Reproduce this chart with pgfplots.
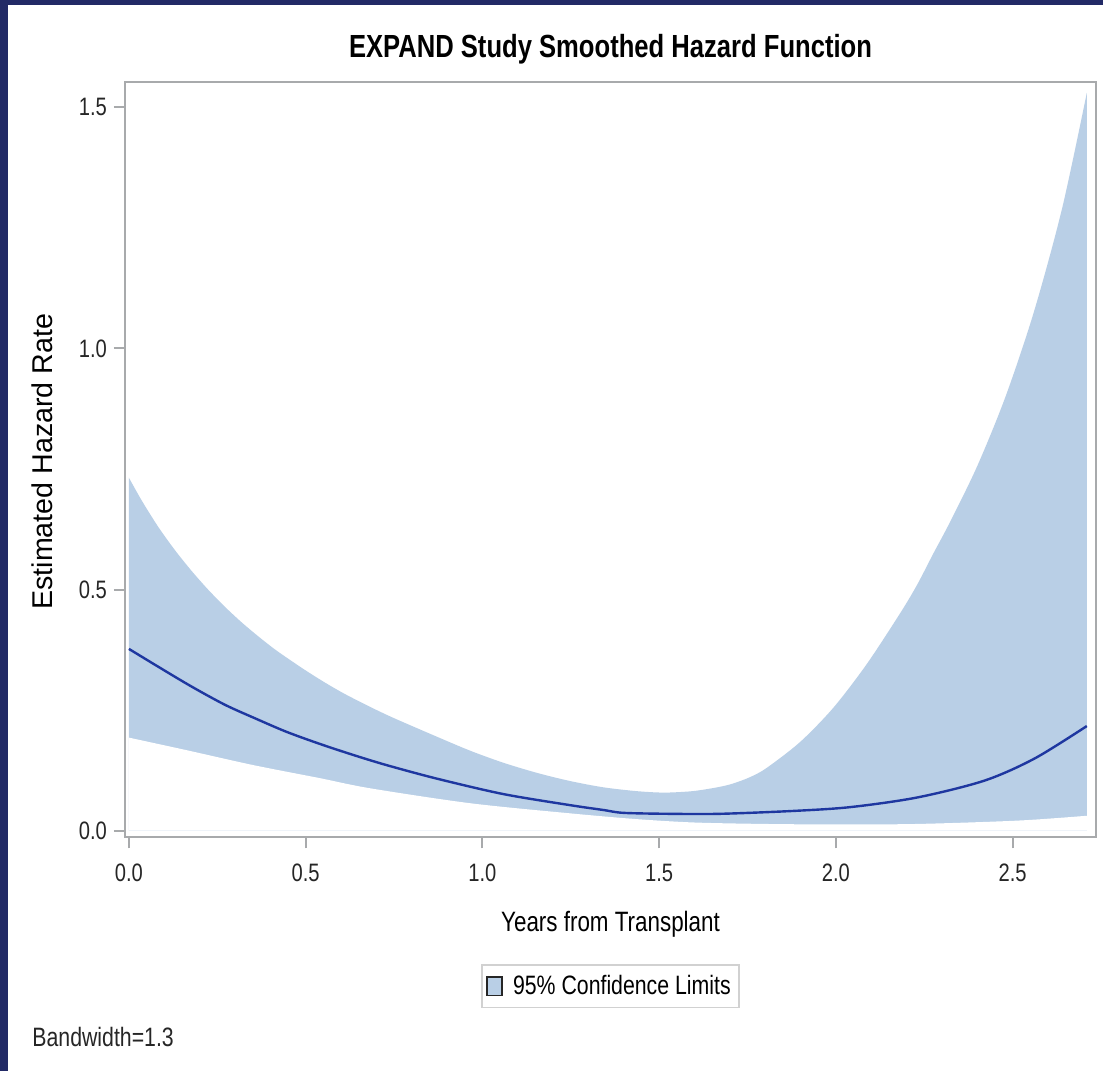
\documentclass[border=0pt]{standalone}
\usepackage{pgfplots}
\pgfplotsset{compat=1.18}
\usepackage{fontspec}
\setmainfont{Liberation Sans}[FakeStretch=0.8]
\newfontfamily\ylabfont{Liberation Sans}
\definecolor{navyframe}{RGB}{34,42,102}
\definecolor{bandblue}{RGB}{185,207,230}
\definecolor{meanblue}{RGB}{30,55,160}
\definecolor{axisgray}{RGB}{168,170,172}
\begin{document}
\begin{tikzpicture}
\path[use as bounding box] (0,0) rectangle (551.5pt,-535.5pt);
\fill[navyframe] (0,0) rectangle (551.5pt,-535.5pt);
\fill[white] (4pt,-2.5pt) rectangle (551.5pt,-535.5pt);
\begin{axis}[
  at={(62.5pt,-418.65pt)}, anchor=south west,
  scale only axis, width=485.5pt, height=377.8pt,
  xmin=-0.011, xmax=2.736, ymin=-0.0137, ymax=1.553,
  axis on top,
  axis line style={axisgray, line width=1pt},
  xtick={0,0.5,1,1.5,2,2.5}, ytick={0,0.5,1,1.5},
  xtick pos=lower, ytick pos=left,
  tick align=outside, major tick length=5.5pt,
  tick style={axisgray, line width=1pt},
  /pgf/number format/assume math mode=true,
  /pgf/number format/fixed, /pgf/number format/fixed zerofill, /pgf/number format/precision=1,
  ticklabel style={font=\fontsize{12.6}{14}\selectfont, text=black!85},
  xticklabel style={yshift=-4.5pt},
  title={\textbf{EXPAND Study Smoothed Hazard Function}},
  title style={font=\fontsize{16}{19}\selectfont, at={(axis description cs:0.5,1.0155)}, anchor=base, inner sep=0pt},
  xlabel={Years from Transplant},
  xlabel style={font=\fontsize{14}{16}\selectfont, at={(axis description cs:0.5,-0.124)}, anchor=base, inner sep=0pt},
  ylabel={\ylabfont Estimated Hazard Rate},
  ylabel style={font=\fontsize{14.3}{16}\selectfont, at={(axis description cs:-0.0855,0.497)}, anchor=center, inner sep=0pt},
  legend style={at={(axis description cs:0.5,-0.197)}, anchor=center, draw=black!18, line width=0.8pt,
    font=\fontsize{13.3}{15}\selectfont, inner xsep=2pt, inner ysep=3pt},
  legend cell align=left,
]
% upper confidence limit (filled down to zero)
\addplot[fill=bandblue, draw=none, smooth,
  legend image code/.code={\draw[fill=bandblue, draw=black!85, line width=0.8pt] (0pt,-4.6pt) rectangle (7.6pt,4.6pt); \path (11pt,0pt);}]
  coordinates {
(0.000,0.732) (0.036,0.685) (0.083,0.630) (0.130,0.582) (0.177,0.539) (0.224,0.500)
(0.272,0.464) (0.319,0.432) (0.366,0.403) (0.413,0.376) (0.460,0.352) (0.507,0.329)
(0.555,0.307) (0.602,0.287) (0.649,0.269) (0.690,0.254) (0.733,0.239) (0.776,0.225) (0.871,0.195)
(0.965,0.166) (1.059,0.141) (1.154,0.120) (1.248,0.103) (1.342,0.090) (1.437,0.082)
(1.512,0.079) (1.578,0.081) (1.616,0.084) (1.672,0.091) (1.710,0.098) (1.757,0.111) (1.804,0.130)
(1.899,0.184) (1.993,0.255) (2.087,0.345) (2.182,0.451) (2.230,0.510) (2.276,0.575) (2.323,0.640)
(2.400,0.756) (2.480,0.900) (2.560,1.075) (2.640,1.290) (2.710,1.530)
} \closedcycle;
\addlegendentry{95\% Confidence Limits}
% lower confidence limit (white below it)
\addplot[fill=white, draw=none, smooth, forget plot] coordinates {
(0.000,0.193) (0.163,0.167) (0.352,0.136) (0.540,0.109) (0.682,0.088)
(0.965,0.057) (1.248,0.036) (1.437,0.024) (1.600,0.017) (1.800,0.014)
(2.000,0.013) (2.231,0.014) (2.516,0.021) (2.710,0.031)
} \closedcycle;
% estimated hazard
\addplot[meanblue, line width=1.2pt, smooth, forget plot] coordinates {
(0.000,0.377) (0.083,0.340) (0.177,0.299) (0.272,0.261) (0.357,0.233)
(0.446,0.205) (0.540,0.180) (0.635,0.157) (0.729,0.136) (0.871,0.108)
(1.059,0.076) (1.248,0.053) (1.342,0.043) (1.399,0.037) (1.531,0.035)
(1.672,0.035) (1.880,0.041) (2.042,0.049) (2.231,0.069) (2.421,0.104)
(2.563,0.150) (2.710,0.217)
};
\end{axis}
\node[anchor=base west, inner sep=0pt, font=\fontsize{13.3}{15}\selectfont, text=black!85] at (16pt,-523pt) {Bandwidth=1.3};
\end{tikzpicture}
\end{document}
